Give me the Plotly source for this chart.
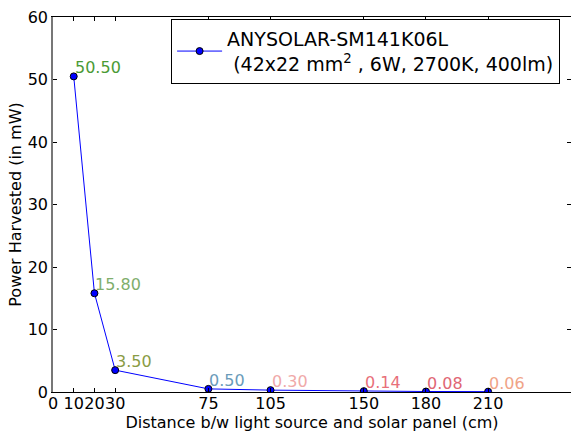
import plotly.graph_objects as go

distance_cm = [10, 20, 30, 75, 105, 150, 180, 210]
power_mw = [50.50, 15.80, 3.50, 0.50, 0.30, 0.14, 0.08, 0.06]
value_labels = ["50.50", "15.80", "3.50", "0.50", "0.30", "0.14", "0.08", "0.06"]
label_colors = ["#4a9a35", "#7fae6c", "#8a9c45", "#6a9bba", "#f0a9a9",
                "#e8707a", "#e06674", "#f0a487"]
x_ticks = [0, 10, 20, 30, 75, 105, 150, 180, 210]
y_ticks = [0, 10, 20, 30, 40, 50, 60]

font_family = "DejaVu Sans"

fig = go.Figure()
fig.add_trace(go.Scatter(
    x=distance_cm, y=power_mw,
    mode="lines+markers",
    line=dict(color="#0000ff", width=1),
    marker=dict(color="#0000ff", size=7, line=dict(color="black", width=1)),
    name="ANYSOLAR-SM141K06L<br> (42x22 mm<sup>2</sup> , 6W, 2700K, 400lm)",
    showlegend=True,
))

for x, y, txt, col in zip(distance_cm, power_mw, value_labels, label_colors):
    fig.add_annotation(x=x, y=y, text=txt, showarrow=False,
                       xanchor="left", yanchor="bottom", xshift=-1, yshift=-3,
                       font=dict(family=font_family, size=16, color=col))

fig.update_xaxes(
    range=[0, 250], tickvals=x_ticks, ticktext=[str(t) for t in x_ticks],
    tickangle=0, automargin=False, ticklabelstandoff=-3,
    ticks="inside", ticklen=4, tickcolor="black", showgrid=False, zeroline=False,
    showline=True, linecolor="black", linewidth=1, mirror="ticks",
    tickfont=dict(family=font_family, size=16, color="black"),
    title=dict(text="Distance b/w light source and solar panel (cm)",
               font=dict(family=font_family, size=16, color="black"), standoff=0),
)
fig.update_yaxes(
    range=[0, 60], tickvals=y_ticks, automargin=False,
    ticks="inside", ticklen=4, tickcolor="black", showgrid=False, zeroline=False,
    showline=True, linecolor="#777777", linewidth=1.5, mirror="ticks",
    tickfont=dict(family=font_family, size=16, color="black"),
    title=dict(text="Power Harvested (in mW)",
               font=dict(family=font_family, size=16, color="black"), standoff=2),
)

fig.update_layout(
    width=571, height=433,
    margin=dict(l=53, r=0, t=17, b=41),
    plot_bgcolor="white", paper_bgcolor="white",
    legend=dict(x=0.228, y=0.995, xanchor="left", yanchor="top",
                bgcolor="white", bordercolor="black", borderwidth=1,
                font=dict(family=font_family, size=19, color="black"),
                itemwidth=45),
)

fig.write_html("out.html")
